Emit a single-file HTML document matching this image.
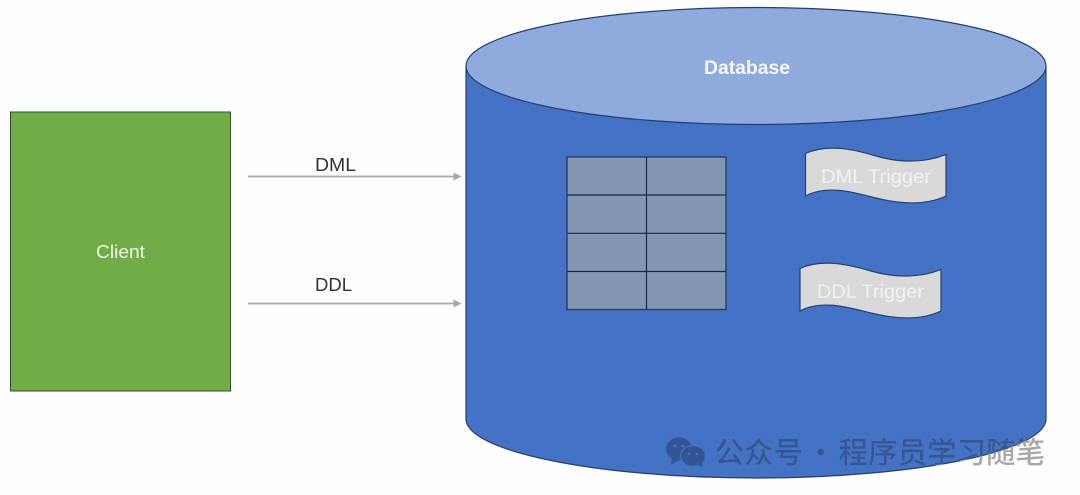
<!DOCTYPE html>
<html>
<head>
<meta charset="utf-8">
<style>
html,body{margin:0;padding:0;background:#fff;width:1080px;height:495px;overflow:hidden}
svg{display:block}
text{font-family:"Liberation Sans","Noto Sans CJK SC",sans-serif}
.wm{font-size:29.5px;font-family:"Noto Sans CJK SC","Liberation Sans",sans-serif;font-weight:500}
</style>
</head>
<body>
<svg width="1080" height="495" viewBox="0 0 1080 495" xmlns="http://www.w3.org/2000/svg">
<defs>
<clipPath id="in"><path d="M466 66 V419 C466 451 596 478 756 478 C916 478 1046 451 1046 419 V66 Z"/></clipPath>
</defs>
<rect width="1080" height="495" fill="#fefefe"/>
<!-- Client -->
<rect x="10.5" y="112" width="220" height="279" fill="#70ad47" stroke="#2f4f3a" stroke-width="1"/>
<text x="96" y="258" font-size="18.500" fill="#eef5ea" textLength="49" lengthAdjust="spacingAndGlyphs">Client</text>
<!-- Arrows -->
<line x1="248" y1="176.500" x2="454" y2="176.500" stroke="#a9a9a9" stroke-width="1.800"/>
<polygon points="461.500,176.500 453.500,172.500 453.500,180.500" fill="#a9a9a9"/>
<line x1="248" y1="303.500" x2="454" y2="303.500" stroke="#a9a9a9" stroke-width="1.800"/>
<polygon points="461.500,303.500 453.500,299.500 453.500,307.500" fill="#a9a9a9"/>
<text x="315" y="171" font-size="18.500" fill="#333" textLength="41" lengthAdjust="spacingAndGlyphs">DML</text>
<text x="315" y="291" font-size="18.500" fill="#333" textLength="37" lengthAdjust="spacingAndGlyphs">DDL</text>
<!-- Cylinder -->
<path d="M466 66 V419 C466 451 596 478 756 478 C916 478 1046 451 1046 419 V66 Z" fill="#4472c4" stroke="#24406f" stroke-width="1.200"/>
<ellipse cx="756" cy="66" rx="290" ry="58.500" fill="#8faadc" stroke="#24406f" stroke-width="1.200"/>
<text x="704" y="74" font-size="19" font-weight="bold" fill="#f4f7fc" textLength="86" lengthAdjust="spacingAndGlyphs">Database</text>
<!-- Table -->
<rect x="567" y="157" width="159" height="152.500" fill="#8497b0" stroke="#1f3864" stroke-width="1.300"/>
<g stroke="#14294d" stroke-width="1.200">
<line x1="646.500" y1="157" x2="646.500" y2="309.500"/>
<line x1="567" y1="195" x2="726" y2="195"/>
<line x1="567" y1="233.300" x2="726" y2="233.300"/>
<line x1="567" y1="271.500" x2="726" y2="271.500"/>
</g>
<!-- Triggers -->
<path d="M805.500 153.500 C828 143 856 150 876 156 C900 163 925 163 946 154.500 V196 C925 206 900 204 876 198 C856 193 828 184 805.500 196 Z" fill="#d9d9d9" stroke="#24406f" stroke-width="1.200"/>
<text x="821" y="183" font-size="19.500" fill="#f2f2f2" textLength="110" lengthAdjust="spacingAndGlyphs">DML Trigger</text>
<path d="M800 268.500 C822 258 850 265 871 271 C895 278 920 278 941 269.500 V311 C920 321 895 319 871 313 C850 308 822 299 800 311 Z" fill="#d9d9d9" stroke="#24406f" stroke-width="1.200"/>
<text x="817" y="298" font-size="19.500" fill="#f2f2f2" textLength="107" lengthAdjust="spacingAndGlyphs">DDL Trigger</text>
<!-- Watermark icon -->
<g opacity="0.9">
<ellipse cx="679" cy="449" rx="13" ry="11.500" fill="#2f5290"/>
<polygon points="672,458 671,465 679,460" fill="#2f5290"/>
<ellipse cx="693" cy="456" rx="12.500" ry="10.500" fill="#2f5290" stroke="#4472c4" stroke-width="1.200"/>
<polygon points="698,464 702,468 702,461" fill="#2f5290"/>
<circle cx="675" cy="446" r="1.500" fill="#4472c4"/>
<circle cx="683" cy="446" r="1.500" fill="#4472c4"/>
<circle cx="689" cy="454" r="1.400" fill="#4472c4"/>
<circle cx="697" cy="454" r="1.400" fill="#4472c4"/>
</g>
<!-- Watermark text: grey outside the cylinder, dark blue inside -->
<g fill="#a8a8a8">
<text class="wm" x="714.500" y="463">公众号</text>
<text class="wm" x="806" y="463">·</text>
<text class="wm" x="838.500" y="463">程序员学习随笔</text>
</g>
<g clip-path="url(#in)" fill="#335796">
<text class="wm" x="714.500" y="463">公众号</text>
<text class="wm" x="806" y="463">·</text>
<text class="wm" x="838.500" y="463">程序员学习随笔</text>
</g>
</svg>
</body>
</html>
